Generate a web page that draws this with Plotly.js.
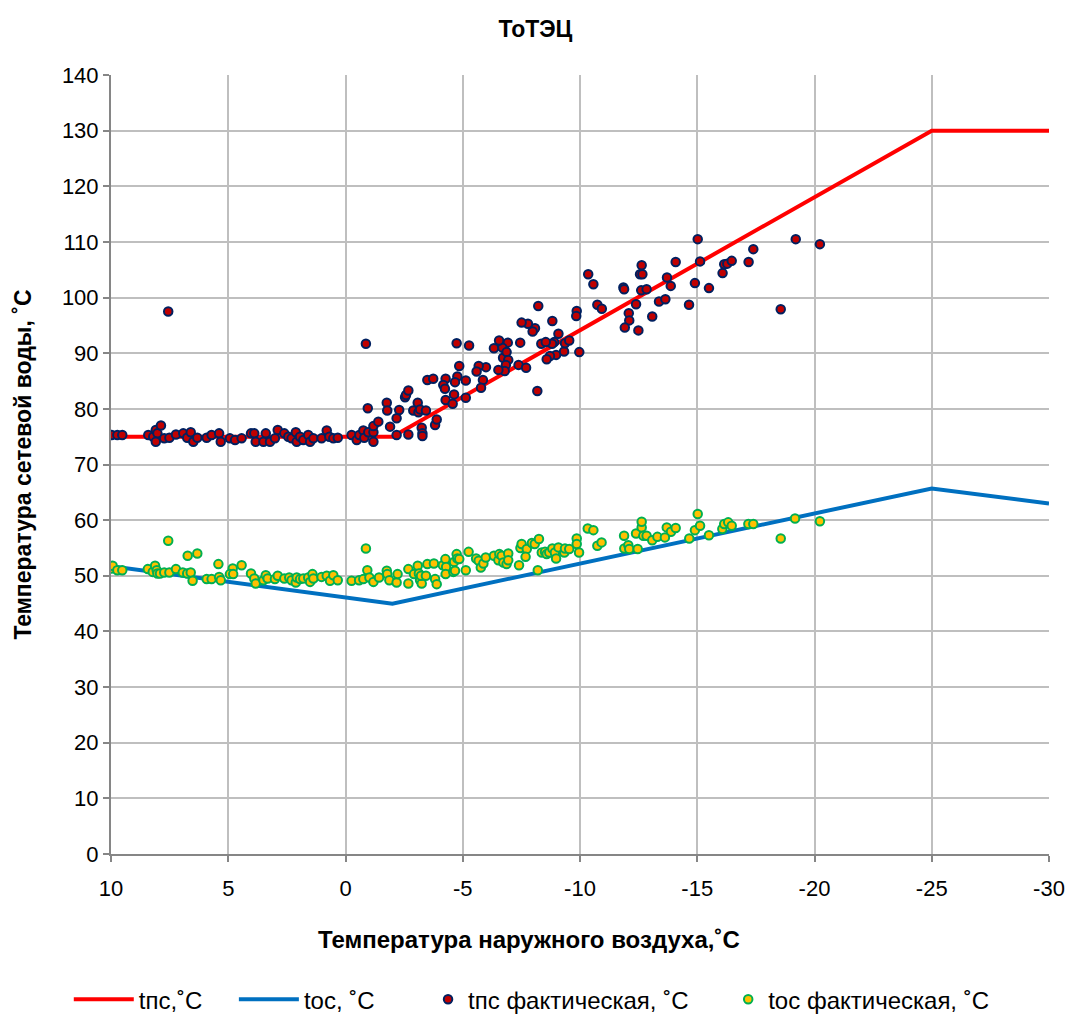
<!DOCTYPE html>
<html>
<head>
<meta charset="utf-8">
<script src="https://cdn.plot.ly/plotly-3.0.1.min.js"></script>
<style>html,body{margin:0;padding:0;background:#fff;}#chart{width:1071px;height:1017px;}</style>
</head>
<body>
<div id="chart"></div>
<script>
// Norm curves
const normX = [10, -2, -25, -30];
const tpsNorm = [75, 75, 130, 130];
const tosNorm = [51.7, 45, 65.7, 63];

// Actual supply temperature (tпс фактическая)
const tpsX = [9.97,9.73,9.52,8.41,8.20,8.09,8.02,7.87,8.09,7.73,7.51,7.23,6.92,6.75,6.60,6.49,6.32,5.92,5.71,5.39,5.32,4.93,4.71,4.43,4.03,3.89,3.83,3.50,3.40,3.22,3.01,2.89,2.61,2.44,2.30,2.12,2.08,1.94,1.80,1.59,1.51,1.37,1.02,0.80,0.69,0.52,0.33,-0.26,-0.48,-0.59,-0.76,-0.80,-0.97,-1.19,-1.19,-1.19,-1.40,-1.76,-1.78,-1.90,-2.18,-2.18,-2.29,-0.95,7.56,-0.87,
-2.68,-3.25,-3.28,-3.28,-3.82,-3.89,-2.54,-2.58,-2.68,-2.89,-3.08,-3.11,-3.18,-3.43,-3.49,-3.74,-4.27,-4.57,
-15.02,-19.20,-20.23,-17.39,-15.12,-14.08,-12.63,-12.56,-12.66,-10.35,-10.57,-11.85,-11.88,-12.61,-12.84,-13.71,-13.87,-14.90,-15.50,-16.08,-16.15,-16.28,-16.47,-17.19,-18.56,-14.65,-13.37,-13.64,-13.08,-12.49,-12.39,-12.08,-12.10,-11.91,-10.74,-10.93,-9.86,-9.84,-9.97,-9.32,-9.36,-9.54,-9.08,-8.90,-8.81,-8.98,-8.72,-8.58,-8.82,-8.08,-7.98,-7.78,-7.51,-8.22,-8.35,-8.54,-8.18,-7.45,-7.38,-7.70,-6.92,-6.69,-6.55,-6.33,-6.72,-6.87,-6.94,-6.84,-6.79,-6.52,-5.99,-5.68,-5.59,-5.86,-5.78,-5.27,-4.74,-4.85,-4.77,-4.67,-5.13,-4.27,-4.17,-4.63,-4.24,-5.13];
const tpsY = [75.3,75.3,75.3,75.3,75.0,76.2,75.6,77.0,74.1,74.7,74.8,75.4,75.6,74.8,75.8,74.1,74.8,74.8,75.3,75.6,74.1,74.7,74.4,74.7,75.6,75.6,74.1,74.1,75.6,74.1,74.7,76.2,75.6,75.0,74.7,75.8,74.1,75.0,74.4,75.3,74.1,74.7,74.7,76.1,75.0,74.7,74.8,75.3,74.4,75.3,76.1,74.8,75.8,74.1,75.8,76.9,77.7,81.1,79.7,76.8,78.3,75.3,79.8,80.1,97.5,91.7,
75.4,76.6,75.6,75.1,77.1,78.1,82.1,82.5,83.3,79.7,81.1,79.4,79.9,79.7,85.2,85.4,81.6,80.9,
110.5,110.5,109.6,108.7,106.5,106.4,105.8,104.2,104.2,104.2,102.4,101.8,101.5,101.3,101.5,103.6,102.1,102.6,101.7,104.4,106.0,106.1,106.6,106.4,97.9,98.7,99.3,99.7,96.6,94.1,98.8,97.2,95.9,94.6,98.7,98.0,97.6,96.7,90.2,90.3,91.8,92.3,93.5,92.0,91.7,89.7,89.5,88.9,95.8,94.5,93.9,95.3,95.5,98.5,91.7,92.0,83.2,91.9,87.9,87.4,91.9,91.0,92.3,90.9,89.2,90.2,88.8,87.9,86.8,87.0,87.5,87.7,86.7,85.2,83.8,91.4,91.8,87.7,85.8,84.8,85.1,85.4,84.3,82.6,83.6,82.0];

// Actual return temperature (tос фактическая)
const tosX = [7.56,6.73,6.32,5.42,4.81,4.43,-0.87,-0.93,
9.97,9.93,9.73,9.52,
8.43,8.22,8.12,8.05,8.02,7.91,7.73,7.51,7.23,6.94,6.75,6.60,6.52,5.92,5.71,5.39,5.32,4.93,4.79,
4.03,3.89,3.83,3.50,3.40,3.32,3.01,2.89,2.61,2.40,2.30,2.12,2.08,1.94,1.80,1.59,1.51,1.41,1.37,1.02,0.80,0.66,0.52,0.33,-0.26,-0.58,-0.76,-1.02,-1.19,-1.43,-1.76,-1.78,-1.87,-2.18,-2.22,
-2.68,-2.68,-2.92,-3.08,-3.13,-3.18,-3.25,-3.22,-3.43,-3.49,-3.77,-3.82,-3.89,-4.15,-4.26,-4.29,-4.27,-4.60,-4.63,-4.67,-4.74,-4.77,-4.85,-5.13,-5.25,-5.57,-5.68,-5.77,-5.88,-5.98,-6.33,-6.52,-6.56,-6.66,-6.73,-6.87,-6.94,-6.94,-7.40,-7.46,-7.51,-7.73,-7.68,-7.95,-8.07,-8.25,-8.20,-8.37,-8.51,-8.58,-8.69,-8.82,-8.93,-8.98,-9.08,-9.33,-9.36,-9.54,-9.86,-9.86,-9.96,-10.33,-10.57,-10.74,-10.92,-11.88,-11.89,-12.06,-12.10,-12.46,-12.39,-12.63,-12.63,-12.70,-12.84,-13.08,-13.30,
-13.70,-13.88,-14.08,-13.62,-14.66,-14.90,-15.02,-15.12,-15.50,-16.07,-16.15,-16.32,-16.47,-17.18,-17.39,-18.56,-19.17,-20.23];
const tosY = [56.3,53.6,54.0,52.1,51.3,51.9,54.9,51.0,
51.3,51.8,51.0,51.0,
51.2,50.7,51.8,51.0,50.4,50.4,50.6,50.6,51.2,50.6,50.4,50.6,49.1,49.4,49.4,49.8,49.2,50.3,50.3,
50.4,49.5,48.6,49.2,50.1,49.5,49.4,50.0,49.5,49.7,49.2,48.8,49.7,49.4,49.5,49.7,48.9,50.3,49.5,49.8,50.0,49.1,50.1,49.2,49.1,49.2,49.4,49.7,48.9,49.7,50.9,50.3,49.2,48.8,50.3,
51.2,48.6,50.3,51.8,50.4,49.2,48.6,50.0,50.0,52.1,52.2,49.4,48.5,51.9,53.0,51.6,50.3,50.7,52.5,50.9,53.9,53.1,53.0,51.0,54.3,53.1,52.7,51.5,52.2,53.3,53.6,52.8,53.9,53.6,52.4,52.1,54.0,52.8,51.9,55.0,55.7,54.8,53.4,55.9,55.7,56.6,51.0,54.2,54.3,53.9,54.2,54.9,54.2,53.1,55.1,54.2,54.9,54.8,56.7,55.7,54.2,58.5,58.2,55.4,56.0,57.2,54.9,55.5,54.8,54.8,57.6,58.7,59.7,57.2,57.2,56.4,57.0,
58.7,57.9,58.6,56.9,56.7,58.2,61.1,59.0,57.3,58.4,59.3,59.6,59.0,59.3,59.3,56.7,60.3,59.8];

const xTicks = [10, 5, 0, -5, -10, -15, -20, -25, -30];
const xTickText = ['10', '5', '0', '-5', '-10', '-15', '-20', '-25', '-30'];

const FONT = 'Liberation Sans, Arial, sans-serif';

const traces = [
  {x: normX, y: tpsNorm, type: 'scatter', mode: 'lines', name: 'tпс,˚C', legend: 'legend',
   line: {color: '#FF0000', width: 4}},
  {x: normX, y: tosNorm, type: 'scatter', mode: 'lines', name: 'tос, ˚C', legend: 'legend2',
   line: {color: '#0070C0', width: 4}},
  {x: tpsX, y: tpsY, type: 'scatter', mode: 'markers', name: 'tпс фактическая, ˚C', legend: 'legend3',
   marker: {color: '#C00000', size: 8.5, line: {color: '#002060', width: 2}}},
  {x: tosX, y: tosY, type: 'scatter', mode: 'markers', name: 'tос фактическая, ˚C', legend: 'legend4',
   marker: {color: '#FFC000', size: 8.5, line: {color: '#00B050', width: 2}}}
];

const LEGY = -0.187;
const legBase = {orientation: 'h', y: LEGY, yanchor: 'middle', xanchor: 'left',
                 font: {family: FONT, size: 24}, bgcolor: 'rgba(0,0,0,0)'};

const layout = {
  width: 1071, height: 1017,
  paper_bgcolor: '#fff', plot_bgcolor: '#fff',
  margin: {l: 111, r: 22, t: 75, b: 163, autoexpand: false},
  font: {family: FONT, size: 18, color: '#000'},
  title: {text: '<b>ТоТЭЦ</b>', x: 0.5, xanchor: 'center', y: 0.972, yanchor: 'middle',
          font: {family: FONT, size: 23, color: '#000'}},
  xaxis: {
    range: [10, -30], autorange: false, tickvals: xTicks, ticktext: xTickText,
    showgrid: true, gridcolor: '#BFBFBF', gridwidth: 2,
    showline: true, linecolor: '#868686', linewidth: 2,
    ticks: 'outside', ticklen: 6, tickcolor: '#868686', tickwidth: 2,
    ticklabelstandoff: 8,
    zeroline: false, tickfont: {family: FONT, size: 22}
  },
  yaxis: {
    range: [0, 140], autorange: false, dtick: 10, tick0: 0,
    showgrid: true, gridcolor: '#BFBFBF', gridwidth: 2,
    showline: true, linecolor: '#868686', linewidth: 2,
    ticks: 'outside', ticklen: 6, tickcolor: '#868686', tickwidth: 2,
    zeroline: false, tickfont: {family: FONT, size: 22},
    title: {text: '<b>Температура сетевой воды, ˚C</b>', standoff: 24,
            font: {family: FONT, size: 23}}
  },
  annotations: [{
    text: '<b>Температура наружного воздуха,˚C</b>', xref: 'paper', yref: 'paper',
    x: 0.4456, y: -0.110, xanchor: 'center', yanchor: 'middle', showarrow: false,
    font: {family: FONT, size: 24, color: '#000'}
  }],
  showlegend: true,
  legend: Object.assign({}, legBase, {x: -0.045, itemwidth: 60}),
  legend2: Object.assign({}, legBase, {x: 0.131, itemwidth: 60}),
  legend3: Object.assign({}, legBase, {x: 0.338, itemwidth: 30}),
  legend4: Object.assign({}, legBase, {x: 0.658, itemwidth: 30})
};

Plotly.newPlot('chart', traces, layout, {displayModeBar: false, staticPlot: true});
</script>
</body>
</html>
